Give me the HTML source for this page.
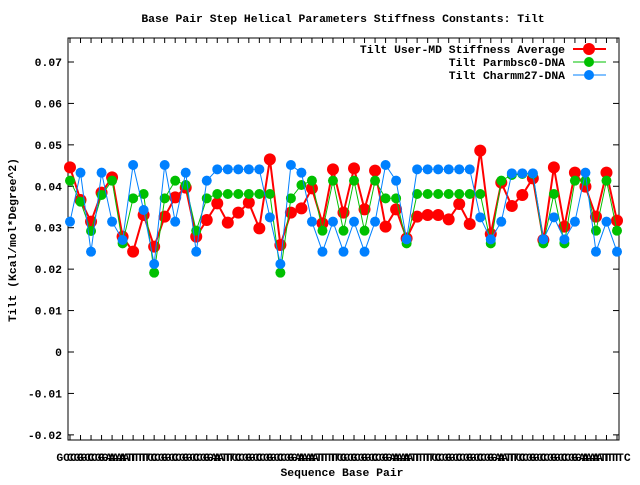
<!DOCTYPE html>
<html><head><meta charset="utf-8"><style>
body{margin:0;background:#fff;}
svg text{font-family:"Liberation Mono","DejaVu Sans Mono",monospace;font-weight:bold;font-size:11.4px;fill:#000;}
</style></head><body>
<svg id="s" width="640" height="480" xmlns="http://www.w3.org/2000/svg">
<rect width="640" height="480" fill="#fff"/>
<text x="343" y="22" text-anchor="middle">Base Pair Step Helical Parameters Stiffness Constants: Tilt</text>
<text x="342" y="476" text-anchor="middle">Sequence Base Pair</text>
<text transform="translate(16,240) rotate(-90)" text-anchor="middle">Tilt (Kcal/mol*Degree^2)</text>
<g id="ax"></g>
<g id="data"></g>
<g>
<text x="565" y="53" text-anchor="end">Tilt User-MD Stiffness Average</text>
<line x1="573" y1="49" x2="606" y2="49" stroke="#f00" stroke-width="2"/><circle cx="589" cy="49" r="6" fill="#f00"/>
<text x="565" y="66" text-anchor="end">Tilt Parmbsc0-DNA</text>
<line x1="573" y1="62" x2="606" y2="62" stroke="#00c000" stroke-width="1"/><circle cx="589" cy="62" r="5" fill="#00c000"/>
<text x="565" y="79" text-anchor="end">Tilt Charmm27-DNA</text>
<line x1="573" y1="75" x2="606" y2="75" stroke="#0080ff" stroke-width="1"/><circle cx="589" cy="75" r="5" fill="#0080ff"/>
</g>
</svg>
<script>
var NS="http://www.w3.org/2000/svg";
function el(p,t,a,txt){var e=document.createElementNS(NS,t);for(var k in a)e.setAttribute(k,a[k]);if(txt!=null)e.textContent=txt;p.appendChild(e);return e;}
var ax=document.getElementById('ax');
var L=68,R=619,T=38,B=440;
el(ax,'rect',{x:L,y:T,width:R-L,height:B-T,fill:'none',stroke:'#000','stroke-width':1});
var yt=[[0.07,'0.07'],[0.06,'0.06'],[0.05,'0.05'],[0.04,'0.04'],[0.03,'0.03'],[0.02,'0.02'],[0.01,'0.01'],[0,'0'],[-0.01,'-0.01'],[-0.02,'-0.02']];
yt.forEach(function(t){var y=352-t[0]*4143;
el(ax,'line',{x1:L,y1:y,x2:L+6,y2:y,stroke:'#000'});el(ax,'line',{x1:R,y1:y,x2:R-6,y2:y,stroke:'#000'});
el(ax,'text',{x:L-6,y:y+4,'text-anchor':'end'},t[1]);});
var N=53,x0=70,dx=(617-70)/52;
var labs="GCCG CGGC GCCG CGGA GAAA AAAT ATTT TTTC TCCG CGGC GCCG CGGC GCCG CGGA GAAT ATTC TCCG CGGC GCCG CGGC GCCG CGGA GAAA AAAT ATTT TTTC TCCG".split(" ");
for(var i=0;i<N;i++){var x=x0+i*dx;
el(ax,'line',{x1:x,y1:B,x2:x,y2:B-5,stroke:'#000'});el(ax,'line',{x1:x,y1:T,x2:x,y2:T+5,stroke:'#000'});
el(ax,'text',{x:x,y:461,'text-anchor':'middle'},labs[i%labs.length]);}
function z(a){return a.map(function(v){return v/3+140;});}
var red=z([82,180,245,158,112,290,335,225,320,230,172,143,290,240,190,248,218,188,265,58,315,218,205,145,250,88,218,85,208,92,260,208,295,230,225,225,238,192,252,32,282,128,198,165,115,300,82,260,98,140,230,98,242]);
var green=z([122,185,273,165,122,310,175,162,398,175,122,135,272,175,162,162,162,162,162,162,398,175,135,122,272,122,272,122,272,122,175,175,310,162,162,162,162,162,162,162,310,122,105,102,102,310,162,310,122,122,272,122,272]);
var blue=z([245,98,335,98,245,300,75,210,372,75,245,98,335,122,88,88,88,88,88,232,372,75,98,245,335,245,335,245,335,245,75,122,298,88,88,88,88,88,88,232,298,245,100,100,100,298,232,298,245,98,335,245,335]);
var d=document.getElementById('data');
function series(ys,c,w,r){var pts=ys.map(function(y,i){return (x0+i*dx).toFixed(1)+','+y.toFixed(1);}).join(' ');
el(d,'polyline',{points:pts,fill:'none',stroke:c,'stroke-width':w});
ys.forEach(function(y,i){el(d,'circle',{cx:x0+i*dx,cy:y,r:r,fill:c});});}
series(red,'#ff0000',2,6);
series(green,'#00c000',1,5);
series(blue,'#0080ff',1,5);
</script>
</body></html>
